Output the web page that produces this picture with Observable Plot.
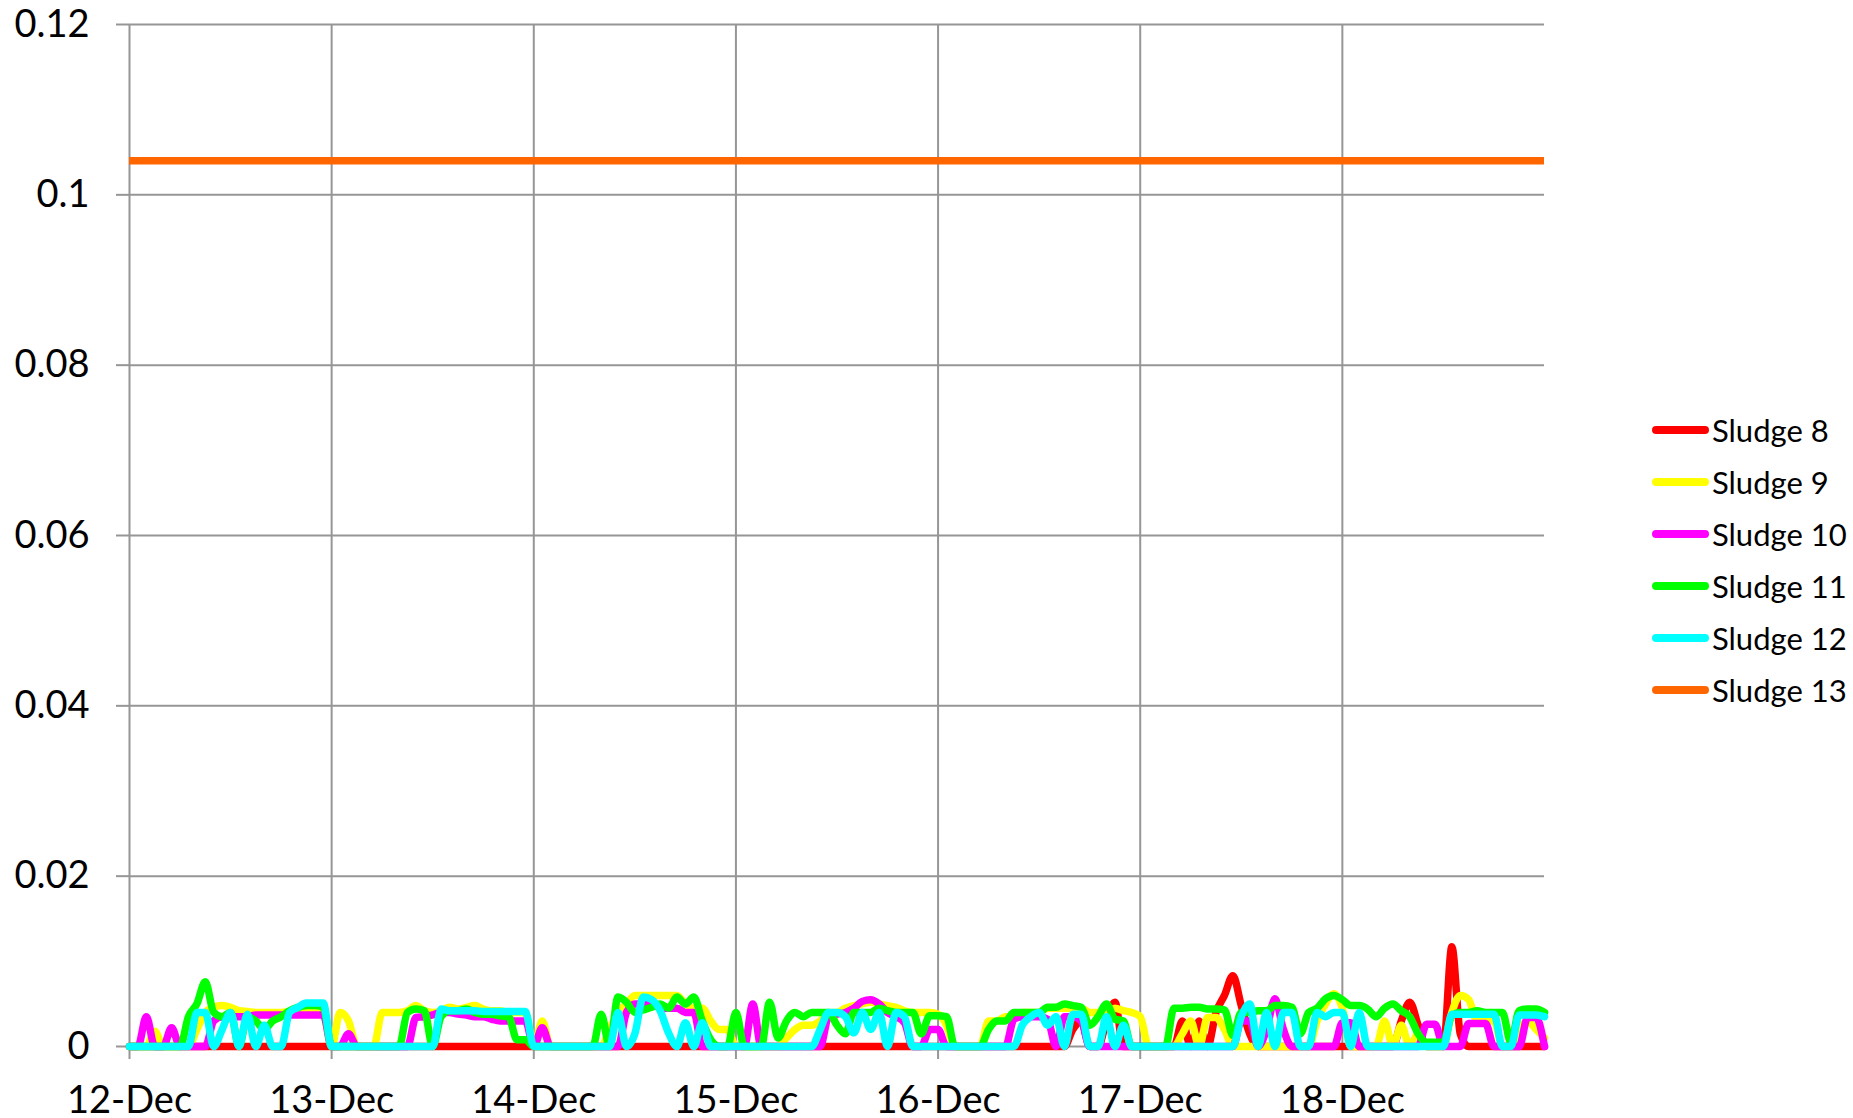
<!DOCTYPE html>
<html>
<head>
<meta charset="utf-8">
<script src="https://cdn.jsdelivr.net/npm/d3@7"></script>
<script src="https://cdn.jsdelivr.net/npm/@observablehq/plot@0.6"></script>
<style>
  html, body { margin: 0; padding: 0; background: #fff; }
  #wrap { position: relative; width: 1853px; height: 1118px; font-family: Lato, "Open Sans", sans-serif; }
  #legend { position: absolute; left: 1652px; top: 404px; }
  .row { display: flex; align-items: center; height: 52px; }
  .sw { width: 57px; height: 8px; border-radius: 4px; }
  .lab { margin-left: 3px; font-size: 31px; color: #000; line-height: 1; white-space: nowrap; }
</style>
</head>
<body>
<div id="wrap"><div id="legend"></div></div>
<script>
// ---- data (hourly readings from 12-Dec 00:00 to 19-Dec 00:00, values in units of 0.001) ----
const startDate = "2013-12-12T00:00Z";
const endDate = "2013-12-19T00:00Z";
const readingStepHours = 1;

const sludge8 = [
  0,0,0,0,0,0,0,0,0,0,0,0,0,0,0,0,0,0,0,0,0,0,0,0,
  0,0,0,0,0,0,0,0,0,0,0,0,0,0,0,0,0,0,0,0,0,0,0,0,
  0,0,0,0,0,0,0,0,0,0,0,0,0,0,0,0,0,0,0,0,0,0,0,0,
  0,0,0,0,0,0,0,0,0,0,0,0,0,0,0,0,0,0,0,0,0,0,0,0,
  0,0,0,0,0,0,0,0,0,0,0,0,0,0,0,0,2,3,0,0,3,5.2,0,0,
  0,0,0,0,0,3,0,3,0,4,6,8.3,4.8,1.5,0,0,0,0,0,0,0,0,0,0,
  0,0,0,0,0,0,0,3,5.2,2.5,0,0,0,11.7,1.5,0,0,0,0,0,0,0,0,0,
  0
];
const sludge9 = [
  0,0,0,1.8,0,0,0,0,2,4,4.6,4.8,4.6,4.2,4.1,4,4,4,4,4.1,4.2,4.2,4.2,4,
  0,4,3,0,0,0,4,4,4,4.2,4.8,4.2,4,4.2,4.6,4.4,4.6,4.8,4.4,4.2,4.2,4,4,4,
  0,3,0,0,0,0,0,0,0,2,4,5,6,6,6,6,6,6,5,4.5,4.5,3,2,2,
  0,0,0,0,0,0,1,2,2.5,2.5,3,4,4,4.5,4.8,5,5.2,5,4.8,4.6,4.2,4,4,4,
  3.8,2.5,0,0,0,0,3,3,3.5,3.5,4,4,4,4.5,4.5,4.5,4.5,4.5,4,4,4,4.5,4.2,4,
  3.5,0,0,0,0,1.5,3,0,3.4,3.4,2,0,0,0,0,0,0,0,0,0,0,3,5,6.2,
  4.5,0,0,0,0,3,0,2.5,0,1.5,0,0,0,4,6,5.5,3,3,3,0,0,2,3,2,
  1
];
const sludge10 = [
  0,0,3.5,0,0,2.2,0,0,0,0,3,3.5,3.5,3.5,3.5,3.7,3.7,3.7,3.7,3.7,3.7,3.7,3.7,3.7,
  0,0,1.5,0,0,0,0,0,0,0,3.4,3.5,3.7,4,4,3.8,3.7,3.5,3.5,3.2,3,3,3,3,
  0,2.2,0,0,0,0,0,0,0,0,0,4,5,5,5,4.5,4.5,4.5,4,4,0,0,0,0,
  0,0,5,0,0,0,0,0,0,0,0,3.5,3.8,4,4.5,5.3,5.5,5,4,3.5,2.8,0,0,2,
  2,0,0,0,0,0,0,0,0,3.2,3.5,3.5,3.5,3.2,0,3.5,3.5,3,0,0,0,0,0,0,
  0,0,0,0,0,0,0,0,0,0,0,0,3,3,0,2,5.6,2,0,0,0,0,0,0,
  2.8,2.8,0,0,0,0,0,0,0,0,2.6,2.6,0,0,0,2.7,2.7,2.7,0,0,0,0,3.4,3.4,
  0
];
const sludge11 = [
  0,0,0,0,0,0,0,3.5,5,7.6,4,3.5,4,0,3.5,3,2,3,3.5,4.2,4.6,4.8,4.8,4.6,
  0,0,0,0,0,0,0,0,0,4,4.4,4.2,0,3.5,4.2,4.2,4.4,4,3.8,3.8,3.6,3.5,0.8,0.8,
  0,0,0,0,0,0,0,0,3.8,0,5.8,5.2,4,4.3,4.6,5,4.5,5.8,5,5.8,3,0.8,0,0,
  4,0,0,0,5.2,1,3,4,3.5,4,4,4,2.5,1.5,4,4,4,4.5,4.2,4,4,4,1.5,3.6,
  3.6,3.5,0,0,0,0,2,3,3,4,4,4,4,4.6,4.6,5,4.8,4.6,2.5,3.5,5,3.2,3,0,
  0,0,0,0,4.5,4.5,4.6,4.6,4.4,4.4,4.3,1.3,4,4,4.2,4.2,4.8,4.8,4.6,1.5,4,4.5,5.6,6,
  5.5,4.8,4.8,4.4,3.5,4.5,5,4.2,3.5,1.5,0.5,0.5,0.5,3.6,4,4,4.2,4,4,4,0.5,4.2,4.4,4.4,
  4
];
const sludge12 = [
  0,0,0,0,0,0,0,0,4,4,0,2,4,0,3.8,0,2.5,0,0,4,4.6,5.1,5.1,5.1,
  0,0,0,0,0,0,0,0,0,0,0,0,0,4.4,4.2,4.2,4.2,4.2,4.1,4.1,4.1,4.1,4.1,4.1,
  0,0,0,0,0,0,0,0,0,0,4,0,1.5,5.8,5.5,4.2,1.6,0,2.8,0,2.8,0,0,0,
  0,0,0,0,0,0,0,0,0,0,2,4,4,3.5,1.6,4,2,4,0,4,3.5,0,0,0,
  0,0,0,0,0,0,0,0,0,0,2.5,3.5,4,2.5,3.5,0,3.8,3.8,0,0,3.5,0,2.5,0,
  0,0,0,0,0,0,0,0,0,0,0,0,3.5,5,0,4,0,4,4,0,0,4,3.5,4,
  4,0,4,0,0,0,0,0,0,0,0,0,0,3.8,3.8,3.8,3.8,3.8,3.8,0,0,3.7,3.7,3.7,
  3.5
];
const sludge13Level = 0.104;

const seriesNames = ["Sludge 8", "Sludge 9", "Sludge 10", "Sludge 11", "Sludge 12", "Sludge 13"];
const seriesColors = ["#ff0000", "#ffff00", "#ff00ff", "#00ff00", "#00ffff", "#ff6600"];
const yTicks = [0, 0.02, 0.04, 0.06, 0.08, 0.1, 0.12];
const xTickDays = ["2013-12-12", "2013-12-13", "2013-12-14", "2013-12-15", "2013-12-16", "2013-12-17", "2013-12-18"];

// ---- build table ----
const t0 = new Date(startDate);
const t1 = new Date(endDate);
const stepMs = readingStepHours * 3600 * 1000;
const milliSeries = [sludge8, sludge9, sludge10, sludge11, sludge12];
const rows = milliSeries.flatMap((arr, k) =>
  arr.map((v, i) => ({series: seriesNames[k], time: new Date(+t0 + i * stepMs), value: v / 1000}))
);
const levelRows = [{series: seriesNames[5], x1: t0, x2: t1, y: sludge13Level}];
const dayTicks = xTickDays.map(s => new Date(s + "T00:00Z"));

const gridColor = "#969696";

const chart = Plot.plot({
  width: 1853,
  height: 1118,
  marginLeft: 129,
  marginRight: 309,
  marginTop: 24,
  marginBottom: 72,
  style: {fontFamily: "Lato, 'Open Sans', sans-serif", fontSize: "38px", color: "#000", background: "#fff", overflow: "visible"},
  x: {type: "utc", domain: [t0, t1]},
  y: {domain: [0, 0.12]},
  color: {domain: seriesNames, range: seriesColors},
  marks: [
    Plot.gridY(yTicks, {stroke: gridColor, strokeOpacity: 1, strokeWidth: 2}),
    Plot.gridX(dayTicks, {stroke: gridColor, strokeOpacity: 1, strokeWidth: 2}),
    Plot.axisY({ticks: yTicks, tickSize: 13, tickPadding: 27, stroke: gridColor, strokeWidth: 2, fill: "#000",
      tickFormat: d => String(Math.round(d * 100) / 100), label: null}),
    Plot.axisX({ticks: dayTicks, tickSize: 13, tickPadding: 27, stroke: gridColor, strokeWidth: 2, fill: "#000",
      tickFormat: d3.utcFormat("%-d-%b"), label: null}),
    Plot.line(rows, {x: "time", y: "value", z: "series", stroke: "series", strokeWidth: 7.5,
      curve: "monotone-x", strokeLinejoin: "round"}),
    Plot.ruleY(levelRows, {y: "y", x1: "x1", x2: "x2", stroke: "series", strokeWidth: 7.5})
  ]
});
const wrap = document.getElementById("wrap");
wrap.insertBefore(chart, wrap.firstChild);

// ---- legend ----
const legend = document.getElementById("legend");
seriesNames.forEach((name, k) => {
  const row = document.createElement("div");
  row.className = "row";
  const sw = document.createElement("div");
  sw.className = "sw";
  sw.style.background = seriesColors[k];
  const lab = document.createElement("span");
  lab.className = "lab";
  lab.textContent = name;
  row.appendChild(sw);
  row.appendChild(lab);
  legend.appendChild(row);
});
</script>
</body>
</html>
